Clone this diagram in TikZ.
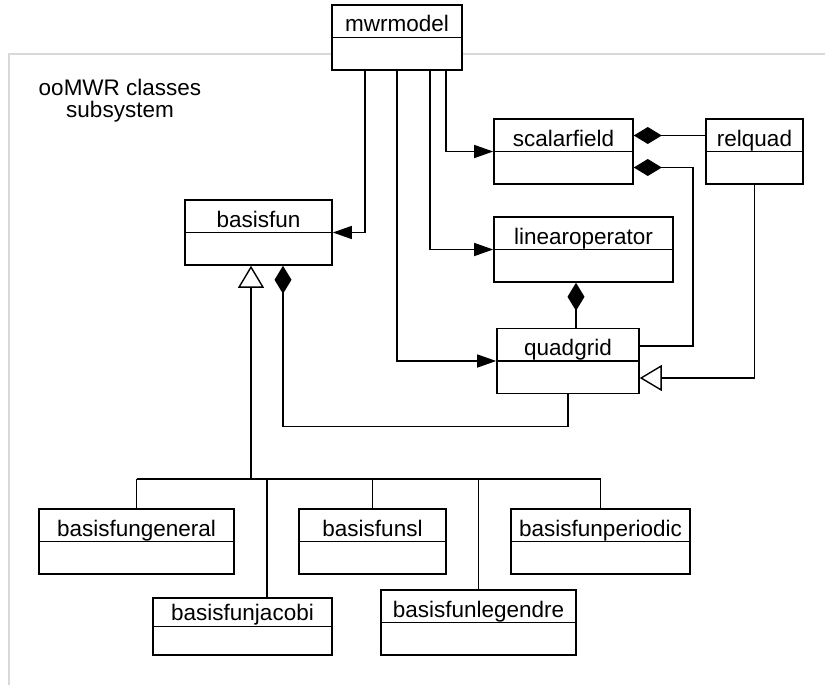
\documentclass[tikz,border=0pt]{standalone}
\usepackage{fontspec}
\setmainfont{Liberation Sans}
\usetikzlibrary{arrows.meta,calc}
\begin{document}
\begin{tikzpicture}[x=1pt,y=-1pt,
  every node/.style={font=\fontsize{22.5}{22}\selectfont},
  umlclass/.style={draw, fill=white, line width=1.6pt, inner xsep=0pt, inner ysep=0pt,
    text height=27pt, text depth=38pt,
    path picture={\draw[line width=1.6pt] (path picture bounding box.west) -- (path picture bounding box.east);}},
  shortbox/.style={text height=22pt, text depth=35pt},
  link/.style={line width=1.4pt},
  assoc/.style={link, -{Triangle[length=19pt,width=13pt]}},
  comp/.style={link, {Diamond[length=28pt,width=17pt]}-},
  gen/.style={link, -{Triangle[open,length=22pt,width=26pt]}},
  subsys/.style={draw=black!15, line width=2pt}
]
\useasboundingbox (0,0) rectangle (825,685);

% subsystem frame (only top and left edges fall inside the page)
\draw[subsys] (9,690) -- (9,54) -- (830,54);
\node[align=center] (title) at (120,101) {ooMWR classes\\subsystem};

% classes
\node[umlclass, minimum width=130pt] (mwr) at (397,37.5) {mwrmodel};
\node[umlclass, minimum width=147pt] (basisfun) at (258.5,232.5) {basisfun};
\node[umlclass, minimum width=139pt] (scalar) at (563.5,151.5) {scalarfield};
\node[umlclass, minimum width=97pt] (relquad) at (754.5,151.5) {relquad};
\node[umlclass, minimum width=179pt] (linop) at (583.5,249.5) {linearoperator};
\node[umlclass, minimum width=142pt] (quad) at (568,361) {quadgrid};
\node[umlclass, minimum width=195pt] (bgen) at (136.5,541.5) {basisfungeneral};
\node[umlclass, shortbox, minimum width=179pt] (bjac) at (242.5,626.5) {basisfunjacobi};
\node[umlclass, minimum width=147pt] (bsl) at (372.5,541.5) {basisfunsl};
\node[umlclass, minimum width=195pt] (bleg) at (478.5,622.5) {basisfunlegendre};
\node[umlclass, minimum width=179pt] (bper) at (600.5,541.5) {basisfunperiodic};

% associations from mwrmodel
\draw[assoc] ($(mwr.south)+(-32,0)$) |- (basisfun.east);
\draw[assoc] (mwr.south) |- (quad.west);
\draw[assoc] ($(mwr.south)+(33,0)$) |- (linop.west);
\draw[assoc] ($(mwr.south)+(49,0)$) |- (scalar.west);

% compositions
\draw[comp] ($(scalar.east)+(0,-16)$) -- ($(relquad.west)+(0,-16)$);
\coordinate (qsbend) at ($(quad.east)+(53,-15)$);
\draw[comp] ($(scalar.east)+(0,16)$) -| (qsbend) -- ($(quad.east)+(0,-15)$);
\coordinate (qtop) at ($(quad.north)+(8,0)$);
\draw[comp] (qtop |- linop.south) -- (qtop);
\coordinate (bfd) at ($(basisfun.south)+(24.5,0)$);
\draw[comp] (bfd) |- ($(quad.south)+(0,32)$) -- (quad.south);

% generalizations
\draw[gen] (relquad.south) |- ($(quad.east)+(0,17)$);
\coordinate (hub) at ($(basisfun.south)+(-7.5,213)$);
\draw[gen] (hub) -- (hub |- basisfun.south);
\draw[link] (bgen.north |- hub) -- (bper.north |- hub);
\draw[link] (bgen.north) -- (bgen.north |- hub);
\coordinate (jtop) at ($(bjac.north)+(24.5,0)$);
\draw[link] (jtop) -- (jtop |- hub);
\draw[link] (bsl.north) -- (bsl.north |- hub);
\draw[link] (bleg.north) -- (bleg.north |- hub);
\draw[link] (bper.north) -- (bper.north |- hub);
\end{tikzpicture}
\end{document}
